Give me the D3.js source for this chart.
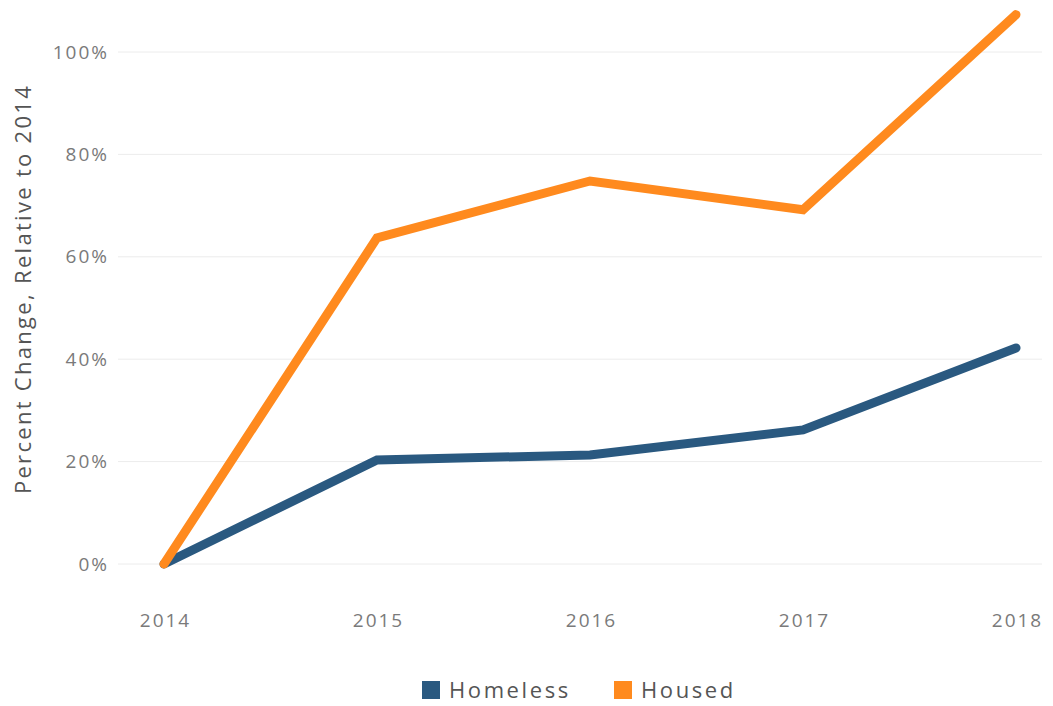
<!DOCTYPE html>
<html>
<head>
<meta charset="utf-8">
<script src="https://cdn.jsdelivr.net/npm/d3@7"></script>
<style>
  body { margin: 0; background: #fff; }
  svg { font-family: "Open Sans", Lato, sans-serif; }
</style>
</head>
<body>
<svg id="chart" width="1053" height="706"></svg>
<script>
// chart data
const years = [2014, 2015, 2016, 2017, 2018];
const homeless = [0, 20.3, 21.3, 26.2, 42.2];
const housed = [0, 63.7, 74.8, 69.2, 107.3];
const yTicks = [0, 20, 40, 60, 80, 100];
const seriesNames = ["Homeless", "Housed"];
const seriesColors = ["#2a5980", "#ff8a1e"];

const svg = d3.select("#chart");

const x = d3.scalePoint()
    .domain(years)
    .range([164, 1016]);

const y = d3.scaleLinear()
    .domain([0, 100])
    .range([564, 52]);

// gridlines
svg.append("g")
    .selectAll("line")
    .data(yTicks)
    .enter().append("line")
    .attr("x1", 118)
    .attr("x2", 1042)
    .attr("y1", d => y(d))
    .attr("y2", d => y(d))
    .attr("stroke", "#ececec")
    .attr("stroke-width", 1);

// y axis labels
const yAxis = svg.append("g")
    .attr("transform", "translate(109,0)")
    .call(d3.axisLeft(y).tickValues(yTicks).tickFormat(d => d + "%").tickSize(0).tickPadding(0));
yAxis.select(".domain").remove();
yAxis.selectAll("text")
    .attr("font-size", 19)
    .attr("letter-spacing", 2)
    .attr("fill", "#7a7a7a")
    .attr("font-family", "'Open Sans', Lato, sans-serif");

// x axis labels
const xAxis = svg.append("g")
    .attr("transform", "translate(1,613)")
    .call(d3.axisBottom(x).tickSize(0).tickPadding(0));
xAxis.select(".domain").remove();
xAxis.selectAll("text")
    .attr("font-size", 19)
    .attr("letter-spacing", 2)
    .attr("fill", "#7a7a7a")
    .attr("font-family", "'Open Sans', Lato, sans-serif");

// y axis title
svg.append("text")
    .attr("transform", "translate(31,289) rotate(-90)")
    .attr("text-anchor", "middle")
    .attr("font-size", 22)
    .attr("letter-spacing", 2.3)
    .attr("fill", "#555")
    .text("Percent Change, Relative to 2014");

// lines
const line = d3.line()
    .x((d, i) => x(years[i]))
    .y(d => y(d));

[homeless, housed].forEach((vals, i) => {
    svg.append("path")
        .datum(vals)
        .attr("d", line)
        .attr("fill", "none")
        .attr("stroke", seriesColors[i])
        .attr("stroke-width", 9)
        .attr("stroke-linecap", "round")
        .attr("stroke-linejoin", "miter");
});

// legend
const legendX = [422, 614];
const legend = svg.append("g");
seriesNames.forEach((name, i) => {
    legend.append("rect")
        .attr("x", legendX[i])
        .attr("y", 681)
        .attr("width", 18)
        .attr("height", 18)
        .attr("fill", seriesColors[i]);
    legend.append("text")
        .attr("x", legendX[i] + 27)
        .attr("y", 698)
        .attr("font-size", 22)
        .attr("letter-spacing", 2.6)
        .attr("fill", "#555")
        .text(name);
});
</script>
</body>
</html>
